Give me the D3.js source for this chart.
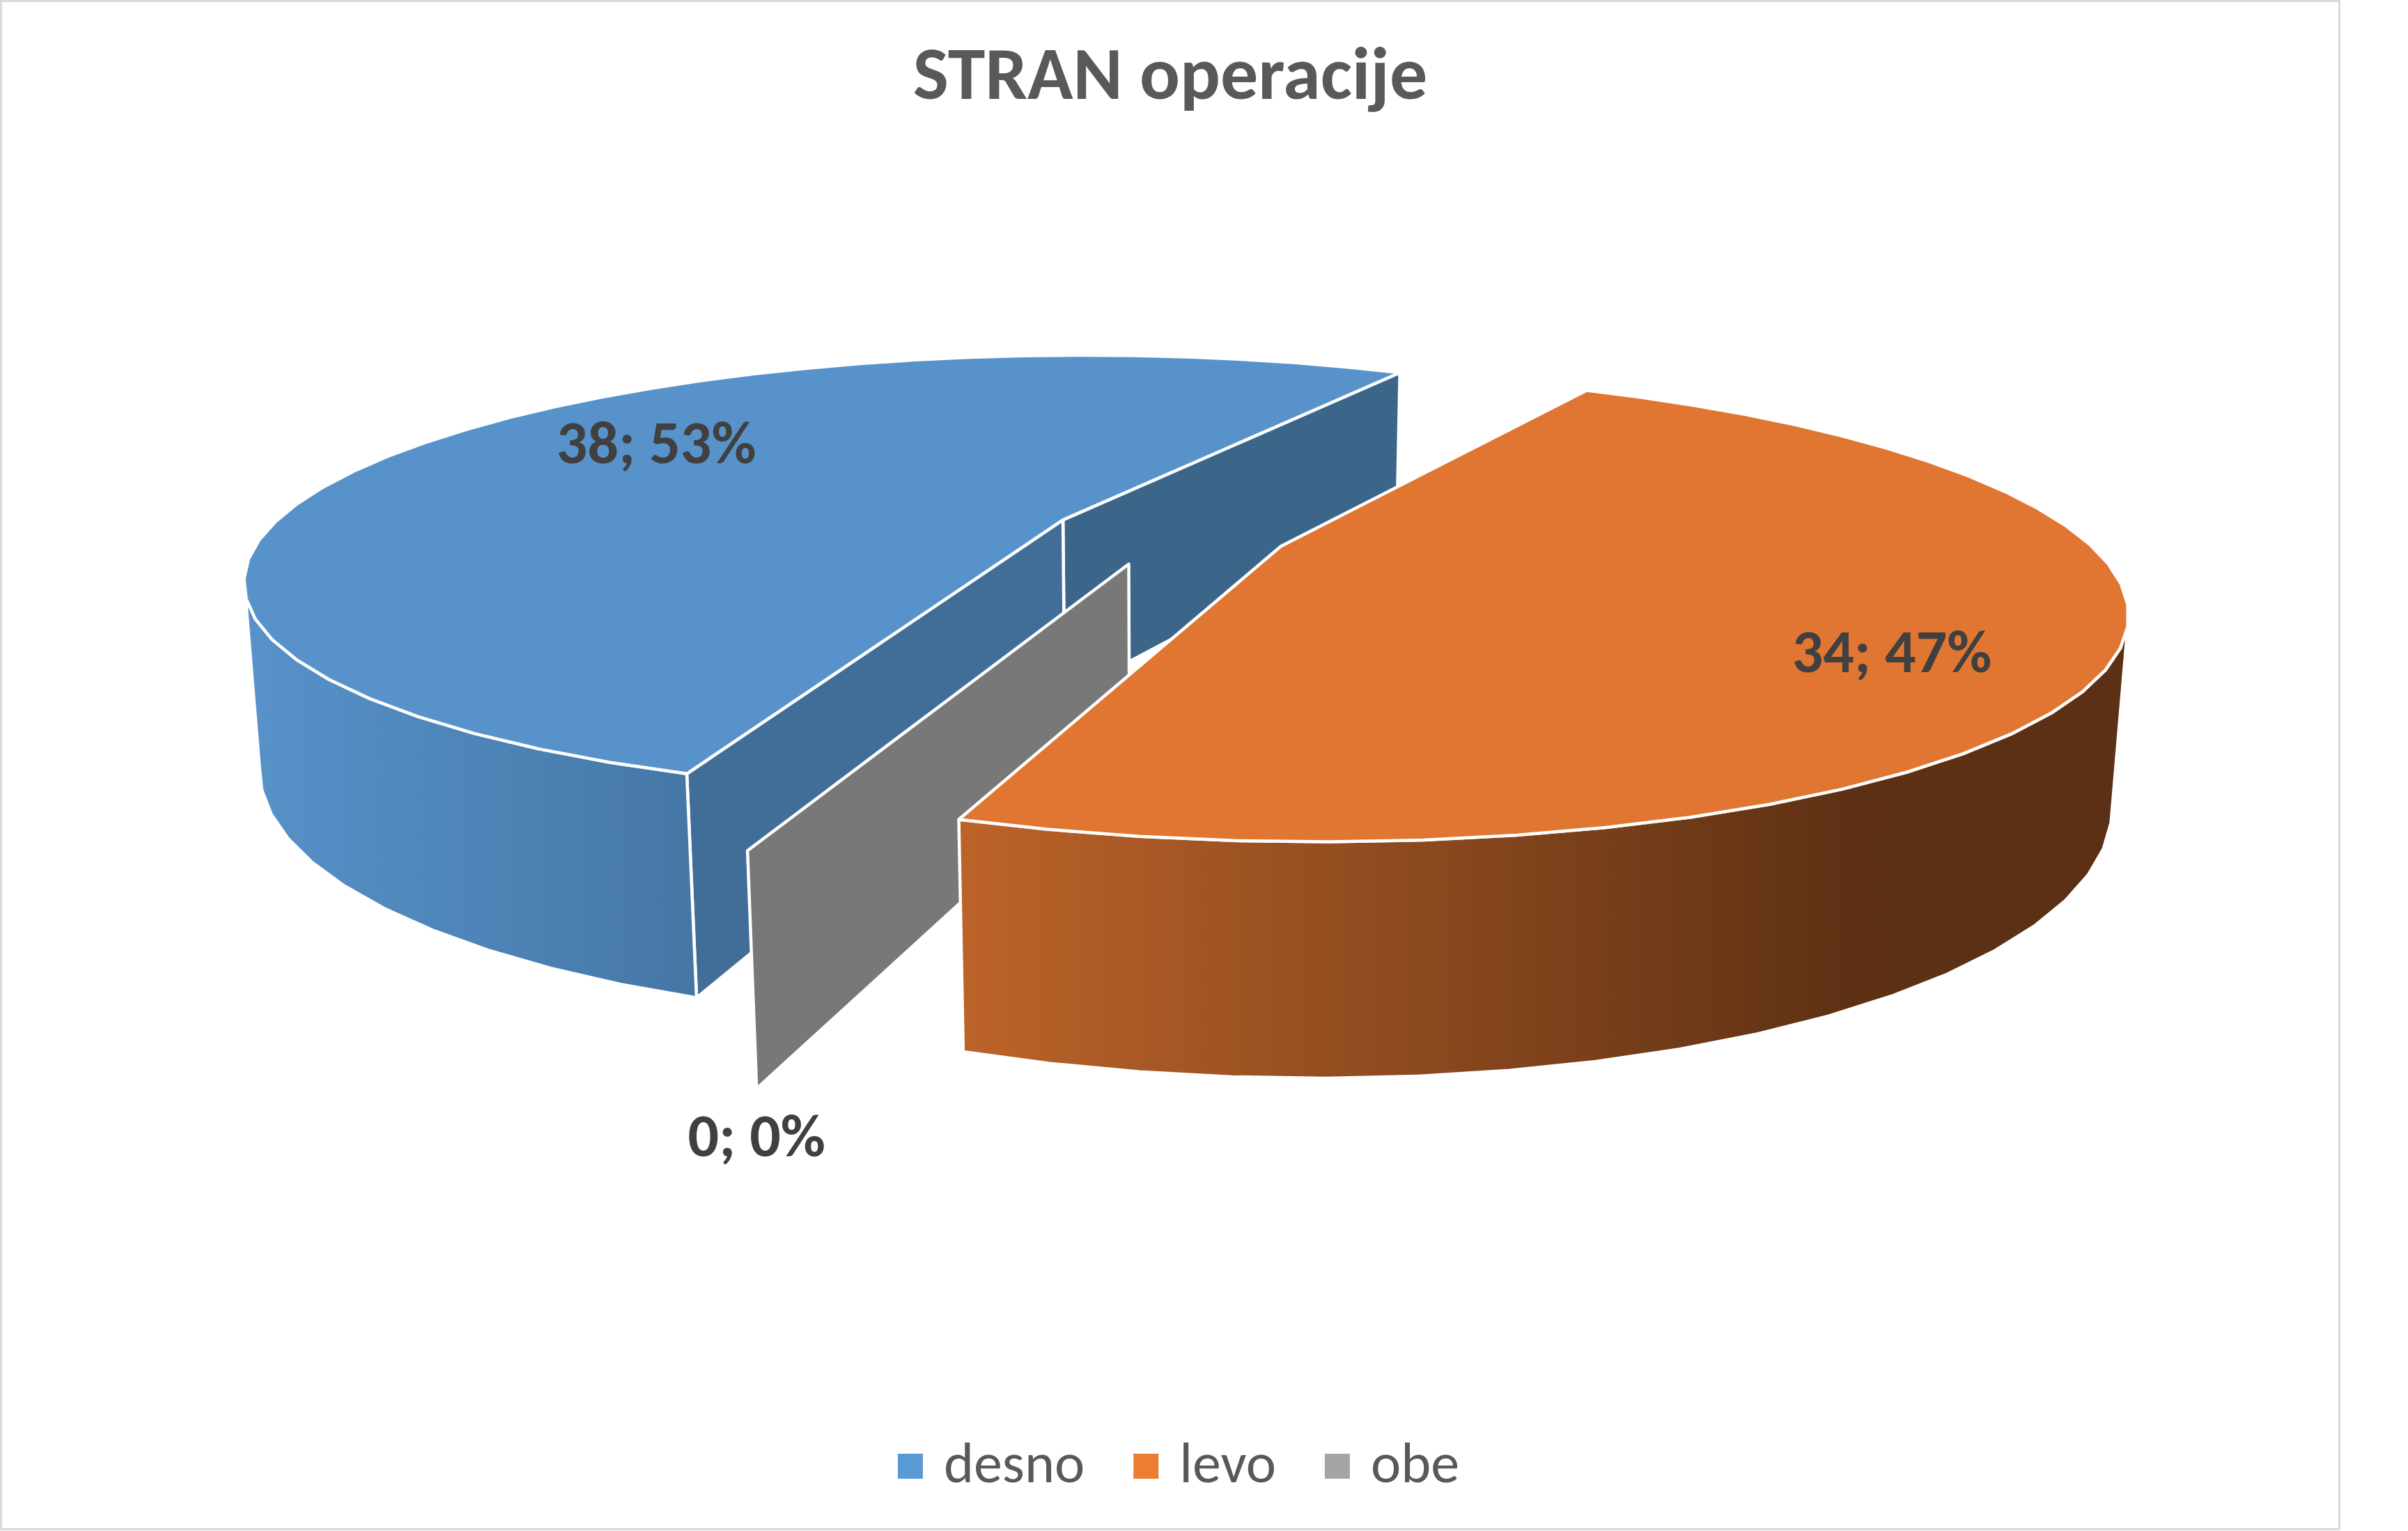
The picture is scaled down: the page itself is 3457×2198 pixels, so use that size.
<!DOCTYPE html>
<html>
<head>
<meta charset="utf-8">
<script src="https://cdn.jsdelivr.net/npm/d3@7"></script>
<style>
  html, body { margin: 0; padding: 0; background: #ffffff; }
  svg { display: block; }
  text { font-family: Carlito, Calibri, Lato, "Open Sans", sans-serif; }
</style>
</head>
<body>
<svg id="drawing_region"></svg>
<script>
// chart data
const title = "STRAN operacije";
const categories = ["desno", "levo", "obe"];
const values = [38, 34, 0];

// look of every series (top face, the two cut faces, outer wall gradient, legend swatch)
const shades = {
    desno: { top: "#5793CA", cutStart: "#416E98", cutEnd: "#3B6589",
             wall: [[0, "#5792CA"], [1, "#4577A5"]], key: "#5B9BD5" },
    levo:  { top: "#E07631", cutStart: "#8F4A1D", cutEnd: "#8F4A1D",
             wall: [[0, "#BC6329"], [0.76, "#5E3114"], [1, "#5C3015"]], key: "#ED7D31" },
    obe:   { top: "#8C8C8C", cutStart: "#787878", cutEnd: "#787878",
             wall: [[0, "#8C8C8C"], [1, "#5A5A5A"]], key: "#A5A5A5" }
};

const config = {
    width: 3457,
    height: 2198,
    chartWidth: 3360,
    chartHeight: 2197,
    firstSliceAngle: 199.5, // degrees, clockwise from the back
    explode: 0.15,          // share of the radius
    thickness: 0.232,       // share of the radius
    tilt: 15.2,             // degrees
    distance: 3.8,          // camera distance in radii
    focal: 4420,
    squeeze: 0.985,
    facet: 5,               // degrees per rim segment
    labelNudge: 40,
    legendShift: 12,
    cx: 1680,
    cy: 765
};

const svg = d3.select("#drawing_region")
    .attr("width", config.width)
    .attr("height", config.height);

svg.append("rect")
    .attr("width", config.width).attr("height", config.height)
    .attr("fill", "#ffffff");

svg.append("rect")
    .attr("x", 1.5).attr("y", 1.5)
    .attr("width", config.chartWidth - 3).attr("height", config.chartHeight - 3)
    .attr("fill", "none")
    .attr("stroke", "#d9d9d9")
    .attr("stroke-width", 3);

svg.append("text")
    .attr("x", config.cx).attr("y", 142)
    .attr("text-anchor", "middle")
    .attr("font-size", 108)
    .attr("font-weight", "bold")
    .attr("fill", "#595959")
    .text(title);

// camera
const rad = Math.PI / 180;
const sinT = Math.sin(config.tilt * rad), cosT = Math.cos(config.tilt * rad);
const L = config.distance;
const camera = [0, L * sinT, -L * cosT];

const sx = d3.scaleLinear().domain([-1, 1]).range([config.cx - config.focal, config.cx + config.focal]);
const sy = d3.scaleLinear().domain([-1, 1]).range([config.cy + config.focal, config.cy - config.focal]);

function depth([x, y, z]) { return L - y * sinT + z * cosT; }
function project(p) {
    const [x, y, z] = p;
    const Y = y * cosT + z * sinT;
    const Z = depth(p);
    return [sx(x * config.squeeze / Z), sy(Y / Z)];
}
function facing(p, n) {
    return (camera[0] - p[0]) * n[0] + (camera[2] - p[2]) * n[2] > 0;
}

const T = config.thickness;
const pie = d3.pie().sort(null).value(d => d)
    .startAngle(config.firstSliceAngle * rad)
    .endAngle(config.firstSliceAngle * rad + 2 * Math.PI);
const slices = pie(values);
const total = d3.sum(values);

const defs = svg.append("defs");
categories.forEach((c, i) => {
    const g = defs.append("linearGradient").attr("id", "wall" + i)
        .attr("x1", 0).attr("x2", 1).attr("y1", 0).attr("y2", 0);
    shades[c].wall.forEach(s => g.append("stop").attr("offset", s[0]).attr("stop-color", s[1]));
});

const walls = [], tops = [];

slices.forEach((s, i) => {
    const cat = categories[i];
    const a0 = s.startAngle, a1 = s.endAngle, mid = (a0 + a1) / 2;
    const o = [config.explode * Math.sin(mid), config.explode * Math.cos(mid)];
    const at = (a, r, y) => [o[0] + r * Math.sin(a), y, o[1] + r * Math.cos(a)];
    s.at = at; s.mid = mid;

    if (a1 - a0 < 1e-9) {
        walls.push({ pts: [at(a0, 0, 0), at(a0, 1, 0), at(a0, 1, -T), at(a0, 0, -T)],
                     fill: shades[cat].cutStart });
        return;
    }

    // rim vertices, Excel style facets
    const n = Math.ceil((a1 - a0) / (config.facet * rad));
    const angles = d3.range(n + 1).map(k => a0 + (a1 - a0) * k / n);

    tops.push({ pts: [at(a0, 0, 0)].concat(angles.map(a => at(a, 1, 0))), fill: shades[cat].top });

    // cut faces
    const nStart = [Math.sin(a0 - Math.PI / 2), 0, Math.cos(a0 - Math.PI / 2)];
    if (facing(at(a0, 0.5, 0), nStart))
        walls.push({ pts: [at(a0, 0, 0), at(a0, 1, 0), at(a0, 1, -T), at(a0, 0, -T)], fill: shades[cat].cutStart });
    const nEnd = [Math.sin(a1 + Math.PI / 2), 0, Math.cos(a1 + Math.PI / 2)];
    if (facing(at(a1, 0.5, 0), nEnd))
        walls.push({ pts: [at(a1, 0, 0), at(a1, 1, 0), at(a1, 1, -T), at(a1, 0, -T)], fill: shades[cat].cutEnd });

    // outer wall: keep the facets turned to the camera, joined into runs
    let run = [];
    const flush = () => {
        if (run.length > 1) {
            const pts = run.map(a => at(a, 1, 0)).concat(run.slice().reverse().map(a => at(a, 1, -T)));
            walls.push({ pts: pts, fill: "url(#wall" + i + ")" });
        }
        run = [];
    };
    for (let k = 0; k < n; k++) {
        const am = (angles[k] + angles[k + 1]) / 2;
        const nrm = [Math.sin(am), 0, Math.cos(am)];
        const pa = at(angles[k], 1, 0), pb = at(angles[k + 1], 1, 0);
        const pm = [(pa[0] + pb[0]) / 2, 0, (pa[2] + pb[2]) / 2];
        if (facing(pm, nrm)) {
            if (!run.length) run.push(angles[k]);
            run.push(angles[k + 1]);
        } else flush();
    }
    flush();
});

const meanDepth = f => d3.mean(f.pts, depth);
walls.sort((a, b) => meanDepth(b) - meanDepth(a));
tops.sort((a, b) => meanDepth(b) - meanDepth(a));

const line = d3.line();
svg.append("g").selectAll("path")
    .data(walls.concat(tops))
    .join("path")
    .attr("d", f => line(f.pts.map(project)) + "Z")
    .attr("fill", f => f.fill)
    .attr("stroke", "#ffffff")
    .attr("stroke-width", 4.5)
    .attr("stroke-linejoin", "round");

// data labels
const labelSize = 88;
svg.append("g").selectAll("text")
    .data(slices)
    .join("text")
    .attr("text-anchor", "middle")
    .attr("font-size", labelSize)
    .attr("font-weight", "bold")
    .attr("fill", "#404040")
    .each(function (s) {
        let p;
        if (s.value === 0) {
            p = project(s.at(s.startAngle, 1, -T));
            p[1] += 97;
        } else {
            p = project(s.at(s.mid + 9.5 * rad, 0.755, 0));
            p[0] += config.labelNudge;
            p[1] += labelSize * 0.36;
        }
        d3.select(this).attr("x", p[0]).attr("y", p[1]);
    })
    .text(s => s.value + "; " + Math.round(s.value / total * 100) + "%");

// legend
const legend = svg.append("g");
const keySize = 36, keyGap = 30, itemGap = 70, legendBase = 2128;
const items = legend.selectAll("g").data(categories).join("g");
items.append("rect")
    .attr("width", keySize).attr("height", keySize)
    .attr("y", legendBase - 41)
    .attr("fill", c => shades[c].key);
items.append("text")
    .attr("x", keySize + keyGap)
    .attr("y", legendBase)
    .attr("font-size", 82)
    .attr("fill", "#595959")
    .text(c => c);
const widths = [];
items.each(function () {
    widths.push(keySize + keyGap + d3.select(this).select("text").node().getComputedTextLength());
});
const legendWidth = d3.sum(widths) + itemGap * (widths.length - 1);
let cursor = config.cx + config.legendShift - legendWidth / 2;
items.attr("transform", (c, i) => {
    const x = cursor;
    cursor += widths[i] + itemGap;
    return `translate(${x},0)`;
});
</script>
</body>
</html>
